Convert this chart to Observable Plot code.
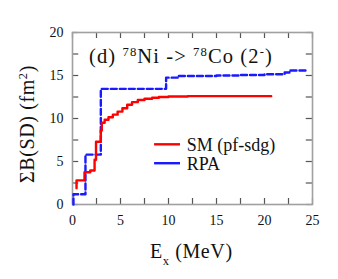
<!DOCTYPE html>
<html><head><meta charset="utf-8">
<script src="https://cdn.jsdelivr.net/npm/d3@7"></script>
<script src="https://cdn.jsdelivr.net/npm/@observablehq/plot@0.6"></script>
<style>body{margin:0;background:#fff}</style>
</head><body><div id="chart"></div>
<script>
const smE = [0.42, 0.42, 1.25, 1.85, 2.3, 2.45, 2.95, 3.05, 3.35, 3.75, 4.2, 4.7, 5.2, 5.7, 6.2, 6.8, 7.5, 8.3, 9.0, 10.0, 12.0, 20.7];
const smB = [1.9, 2.8, 3.75, 3.95, 5.2, 7.3, 8.6, 9.5, 9.85, 10.15, 10.45, 10.8, 11.2, 11.6, 11.9, 12.15, 12.3, 12.42, 12.5, 12.55, 12.6, 12.6];
const rpaE = [0.1, 0.1, 1.35, 2.95, 9.75, 11.0, 15.0, 17.5, 20.0, 22.1, 22.6, 24.4];
const rpaB = [0, 1.2, 5.8, 13.45, 14.75, 14.95, 15.0, 15.05, 15.15, 15.35, 15.58, 15.58];
const xTicks = [0, 5, 10, 15, 20, 25];
const yTicks = [0, 5, 10, 15, 20];
const minorX = d3.range(0, 25.01, 2.5);
const minorY = d3.range(0, 20.01, 2.5);
const legendNames = ["SM (pf-sdg)", "RPA"];
const legendColors = ["#ff0000", "#1a1aff"];
const legendY = [7.0, 4.8];
const legendX = [8.55, 11.25, 11.9];

const FONT = "Liberation Serif";
const sm = smE.map((e, i) => ({E: e, B: smB[i]}));
const rpa = rpaE.map((e, i) => ({E: e, B: rpaB[i]}));
const leg = legendNames.map((n, i) => ({name: n, color: legendColors[i], y: legendY[i], dash: i ? "6,3" : null}));

const tickLenX = 0.65, tickLenY = 0.7;
const plot = Plot.plot({
  width: 338, height: 279,
  marginLeft: 72, marginRight: 26, marginTop: 32, marginBottom: 75,
  style: {fontFamily: FONT, fontSize: "14px", background: "#fff", color: "#111"},
  x: {domain: [0, 25]},
  y: {domain: [0, 20]},
  marks: [
    Plot.ruleX(minorX, {x: d => d, y1: 0, y2: tickLenY, stroke: "#555", strokeWidth: 1.2}),
    Plot.ruleX(minorX, {x: d => d, y1: 20 - tickLenY, y2: 20, stroke: "#555", strokeWidth: 1.2}),
    Plot.ruleY(minorY, {y: d => d, x1: 0, x2: tickLenX, stroke: "#555", strokeWidth: 1.2}),
    Plot.ruleY(minorY, {y: d => d, x1: 25 - tickLenX, x2: 25, stroke: "#555", strokeWidth: 1.2}),
    Plot.frame({stroke: "#a0a0a0", strokeWidth: 1.6}),
    Plot.axisX({ticks: xTicks, tickSize: 0, tickPadding: 11, fontSize: 14, fontFamily: FONT, label: null, tickFormat: d => d}),
    Plot.axisY({ticks: yTicks, tickSize: 0, tickPadding: 9, fontSize: 14, fontFamily: FONT, label: null, tickFormat: d => d}),
    Plot.line(rpa, {x: "E", y: "B", curve: "step-after", stroke: "#1a1aff", strokeWidth: 2.4, strokeDasharray: "6,3"}),
    Plot.line(sm, {x: "E", y: "B", curve: "step-after", stroke: "#ff0000", strokeWidth: 2.4}),
    Plot.ruleY(leg, {y: "y", x1: legendX[0], x2: legendX[1], stroke: "color", strokeWidth: 2.4, strokeDasharray: "dash"}),
    Plot.text(leg, {x: legendX[2], y: "y", text: "name", textAnchor: "start", fontSize: 18, fontFamily: FONT, fill: "#111", dy: 1})
  ]
});
document.getElementById("chart").appendChild(plot);
const svg = d3.select(plot);

function rich(t, parts) {
  parts.forEach(p => {
    const ts = t.append("tspan").text(p[0]);
    if (p[1] === "sup") ts.attr("baseline-shift", "super").attr("font-size", "62%");
    if (p[1] === "sub") ts.attr("baseline-shift", "sub").attr("font-size", "62%");
  });
}
// annotation
const ann = svg.append("text").attr("x", 89).attr("y", 63).attr("font-size", 20.5).attr("fill", "#111")
  .attr("font-family", FONT).attr("text-anchor", "start").attr("letter-spacing", "1.1px");
rich(ann, [["(d) "], ["78", "sup"], ["Ni -> "], ["78", "sup"], ["Co (2"], ["-", "sup"], [")"]]);
// y title
const yt = svg.append("text").attr("transform", "translate(34,124) rotate(-90)").attr("text-anchor", "middle")
  .attr("font-family", FONT).attr("font-size", 20).attr("fill", "#111").attr("letter-spacing", "0.6px");
rich(yt, [["ΣB(SD) (fm"], ["2", "sup"], [")"]]);
// x title
const xt = svg.append("text").attr("x", 150).attr("y", 258).attr("text-anchor", "start")
  .attr("font-family", FONT).attr("font-size", 20).attr("fill", "#111").attr("letter-spacing", "0.6px");
rich(xt, [["E"], ["x", "sub"], [" (MeV)"]]);
</script></body></html>
